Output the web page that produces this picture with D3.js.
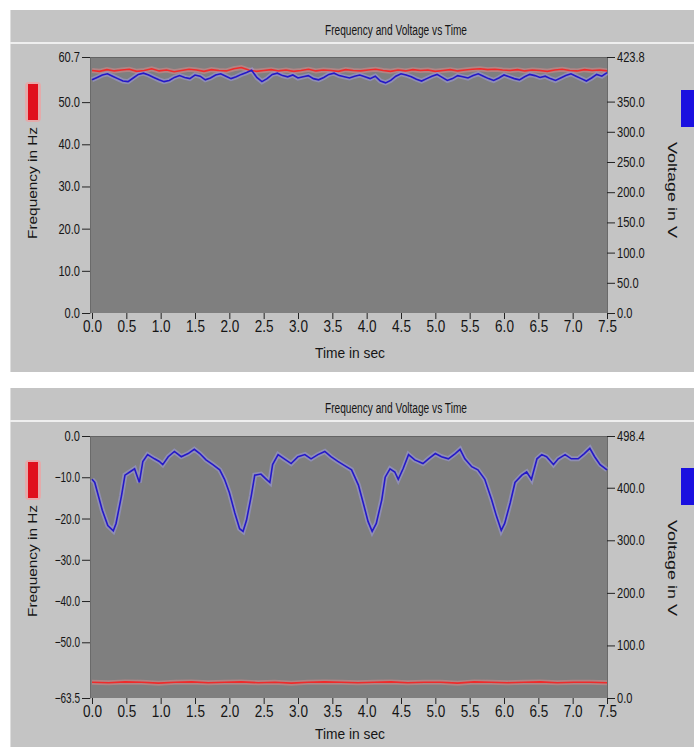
<!DOCTYPE html>
<html><head><meta charset="utf-8">
<script src="https://cdn.jsdelivr.net/npm/d3@7"></script>
<style>
body{margin:0;background:#fff;}
svg text{font-family:"Liberation Sans",Arial,sans-serif;fill:#151515;}
</style></head><body>
<svg id="chart" width="694" height="747"></svg>
<script>
// ---------- data ----------
const chartTitle = "Frequency and Voltage vs Time";
const xLabel = "Time in sec";
const yLeftLabel = "Frequency in Hz";
const yRightLabel = "Voltage in V";

const timeTicks = [0, 0.5, 1, 1.5, 2, 2.5, 3, 3.5, 4, 4.5, 5, 5.5, 6, 6.5, 7, 7.5];
const timeDomain = [0, 7.5];

// top chart
const topFreqDomain = [0, 60.7];
const topFreqTicks = [0, 10, 20, 30, 40, 50, 60.7];
const topVoltDomain = [0, 423.8];
const topVoltTicks = [0, 50, 100, 150, 200, 250, 300, 350, 423.8];
const topFreq = [57.5,57.3,57.7,57.4,57.6,57.8,57.3,57.5,57.9,57.4,57.6,57.2,57.5,57.8,57.6,57.3,57.7,57.5,57.4,57.9,
  58.2,57.6,57.3,57.5,57.7,57.4,57.6,57.3,57.5,57.8,57.4,57.6,57.5,57.3,57.7,57.5,57.4,57.6,57.8,57.5,
  57.3,57.6,57.4,57.7,57.5,57.6,57.3,57.5,57.7,57.4,57.6,57.8,57.9,57.7,57.8,57.6,57.5,57.7,57.4,57.6,
  57.5,57.3,57.6,57.8,57.5,57.4,57.7,57.5,57.6,57.4];
const topVolt = [386,390,394,396,392,388,384,383,389,395,397,394,390,386,383,385,390,393,390,388,
  394,392,386,389,394,396,392,388,391,395,398,402,390,383,388,395,397,393,391,394,
  389,391,393,388,386,390,395,397,393,391,389,392,394,391,388,392,384,381,385,392,
  396,394,391,387,384,388,392,395,390,385,388,393,391,389,393,396,392,388,385,389,
  394,391,388,386,391,395,393,390,392,388,385,389,393,396,392,388,384,389,395,392,398];

// bottom chart
const bottomFreqDomain = [-63.5, 0];
const bottomFreqTicks = [-63.5, -50, -40, -30, -20, -10, 0];
const bottomVoltDomain = [0, 498.4];
const bottomVoltTicks = [0, 100, 200, 300, 400, 498.4];
const bottomFreq = [-59.7,-59.8,-59.6,-59.7,-59.9,-59.7,-59.6,-59.8,-59.7,-59.6,-59.8,-59.7,-59.9,-59.7,-59.6,-59.7,
  -59.8,-59.7,-59.6,-59.8,-59.7,-59.7,-59.9,-59.6,-59.7,-59.8,-59.7,-59.6,-59.8,-59.7,-59.7,-59.8];
const bottomTime = [0.00,0.04,0.15,0.23,0.31,0.35,0.43,0.48,0.55,0.62,0.69,0.74,0.81,0.91,0.98,1.03,1.11,1.20,1.30,1.40,
  1.49,1.57,1.66,1.76,1.86,1.93,2.00,2.08,2.15,2.20,2.25,2.32,2.37,2.46,2.54,2.59,2.63,2.71,2.80,2.90,
  3.00,3.10,3.19,3.29,3.39,3.48,3.58,3.68,3.78,3.88,3.95,4.02,4.08,4.14,4.22,4.27,4.34,4.41,4.46,4.53,
  4.61,4.70,4.82,4.90,5.00,5.09,5.19,5.29,5.36,5.43,5.53,5.62,5.72,5.82,5.89,5.96,6.01,6.09,6.16,6.26,
  6.33,6.40,6.48,6.55,6.62,6.72,6.79,6.89,6.98,7.08,7.17,7.25,7.32,7.40,7.50];
const bottomVolt = [416,410,357,328,318,332,385,424,430,436,410,450,463,455,450,444,459,469,459,465,
  473,465,453,444,434,416,391,352,322,317,338,385,424,426,416,410,444,463,455,446,
  459,463,455,463,469,459,450,442,434,405,371,336,317,332,377,420,436,430,416,436,
  463,453,446,455,465,459,455,465,473,455,440,434,416,377,346,319,332,371,410,424,
  430,416,455,463,459,444,455,463,455,455,465,475,459,444,434];

// ---------- drawing ----------
const svg = d3.select("#chart");
const fmt = d3.format(".1f");

function evenTimes(arr){ const n = arr.length; return arr.map((_, i) => timeDomain[0] + (timeDomain[1]-timeDomain[0]) * i / (n-1)); }
function labelWidth(s, digit){ let w = 0; for (const c of s) w += (c === "." ? digit*0.48 : c === "-" || c === "\u2212" ? digit*0.6 : digit); return w; }

function drawPanel(cfg){
  const g = svg.append("g");
  const L = 90, R = 607, T = cfg.top + cfg.plotTop, B = cfg.top + cfg.plotBottom;
  // panel
  g.append("rect").attr("x",10).attr("y",cfg.top).attr("width",684).attr("height",362).attr("fill","#c4c4c4");
  g.append("line").attr("x1",10.5).attr("x2",10.5).attr("y1",cfg.top).attr("y2",cfg.top+362).attr("stroke","#dedede");
  g.append("line").attr("x1",10).attr("x2",694).attr("y1",cfg.top+33).attr("y2",cfg.top+33).attr("stroke","#efefef").attr("stroke-width",2);
  g.append("text").attr("x",396).attr("y",cfg.top+25).attr("text-anchor","middle")
    .attr("font-size",14).attr("textLength",142).attr("lengthAdjust","spacingAndGlyphs").text(chartTitle);

  const x = d3.scaleLinear().domain(timeDomain).range([L+2, R]);
  const yL = d3.scaleLinear().domain(cfg.freqDomain).range([B, T]);
  const yR = d3.scaleLinear().domain(cfg.voltDomain).range([B, T]);

  g.append("rect").attr("x",L).attr("y",T).attr("width",R-L).attr("height",B-T).attr("fill","#7f7f7f");
  g.append("line").attr("x1",L).attr("x2",R).attr("y1",T+0.5).attr("y2",T+0.5).attr("stroke","#646464");

  // axes
  const ax = g.append("g").attr("transform",`translate(${L},0)`)
    .call(d3.axisLeft(yL).tickValues(cfg.freqTicks).tickFormat(fmt).tickSize(8).tickSizeOuter(0).tickPadding(2));
  const ar = g.append("g").attr("transform",`translate(${R},0)`)
    .call(d3.axisRight(yR).tickValues(cfg.voltTicks).tickFormat(fmt).tickSize(8).tickSizeOuter(0).tickPadding(2));
  const ab = g.append("g").attr("transform",`translate(0,${B})`)
    .call(d3.axisBottom(x).tickValues(timeTicks).tickFormat(fmt).tickSize(6).tickSizeOuter(0).tickPadding(1));
  [ax, ar, ab].forEach(a => a.attr("font-family",null).attr("font-size",null));
  [ax, ar].forEach(a => a.selectAll(".tick text").attr("font-size",14)
    .attr("lengthAdjust","spacingAndGlyphs").attr("textLength", function(){ return labelWidth(this.textContent, 6.2); }));
  ab.selectAll(".tick text").attr("font-size",17)
    .attr("lengthAdjust","spacingAndGlyphs").attr("textLength", function(){ return labelWidth(this.textContent, 7.6); });
  [ax, ar, ab].forEach(a => {
    a.select(".domain").attr("stroke","#6a6a6a");
    a.selectAll(".tick line").attr("stroke","#222");
  });
  ab.select(".domain").remove();

  // axis titles
  g.append("text").attr("x",350).attr("y",cfg.top+cfg.xTitleY).attr("text-anchor","middle").attr("font-size",14)
    .attr("textLength",70).attr("lengthAdjust","spacingAndGlyphs").text(xLabel);
  g.append("text").attr("transform",`translate(37,${cfg.top+173}) rotate(-90)`).attr("text-anchor","middle").attr("font-size",13)
    .attr("textLength",112).attr("lengthAdjust","spacingAndGlyphs").text(yLeftLabel);
  g.append("text").attr("transform",`translate(668,${cfg.top+180}) rotate(90)`).attr("text-anchor","middle").attr("font-size",13)
    .attr("textLength",96).attr("lengthAdjust","spacingAndGlyphs").text(yRightLabel);

  // legend swatches
  g.append("rect").attr("x",25).attr("y",cfg.top+72).attr("width",16).attr("height",40).attr("rx",4).attr("fill","#f2a0a0").attr("opacity",0.7);
  g.append("rect").attr("x",28).attr("y",cfg.top+74).attr("width",10).attr("height",36).attr("fill","#e0101c");
  g.append("rect").attr("x",681).attr("y",cfg.top+80).attr("width",13).attr("height",37).attr("fill","#1a10e0");

  // series
  const fx = cfg.freqTime || evenTimes(cfg.freq);
  const vx = cfg.voltTime || evenTimes(cfg.volt);
  const lineF = d3.line().x((d,i)=>x(fx[i])).y(d=>yL(d));
  const lineV = d3.line().x((d,i)=>x(vx[i])).y(d=>yR(d));
  const plot = g.append("g");
  plot.append("path").datum(cfg.freq).attr("d",lineF).attr("fill","none").attr("stroke","#d88a8a").attr("stroke-width",5).attr("opacity",0.55);
  plot.append("path").datum(cfg.volt).attr("d",lineV).attr("fill","none").attr("stroke","#9a98d8").attr("stroke-width",5).attr("opacity",0.6);
  plot.append("path").datum(cfg.freq).attr("d",lineF).attr("fill","none").attr("stroke","#f02a2a").attr("stroke-width",1.6);
  plot.append("path").datum(cfg.volt).attr("d",lineV).attr("fill","none").attr("stroke","#2418c8").attr("stroke-width",1.6);
}

drawPanel({top:10, plotTop:47, plotBottom:303, xTitleY:348, freqDomain:topFreqDomain, freqTicks:topFreqTicks,
  voltDomain:topVoltDomain, voltTicks:topVoltTicks, freq:topFreq, volt:topVolt});
drawPanel({top:388, plotTop:48, plotBottom:310, xTitleY:351, freqDomain:bottomFreqDomain, freqTicks:bottomFreqTicks,
  voltDomain:bottomVoltDomain, voltTicks:bottomVoltTicks, freq:bottomFreq, volt:bottomVolt, voltTime:bottomTime});
</script>
</body></html>
